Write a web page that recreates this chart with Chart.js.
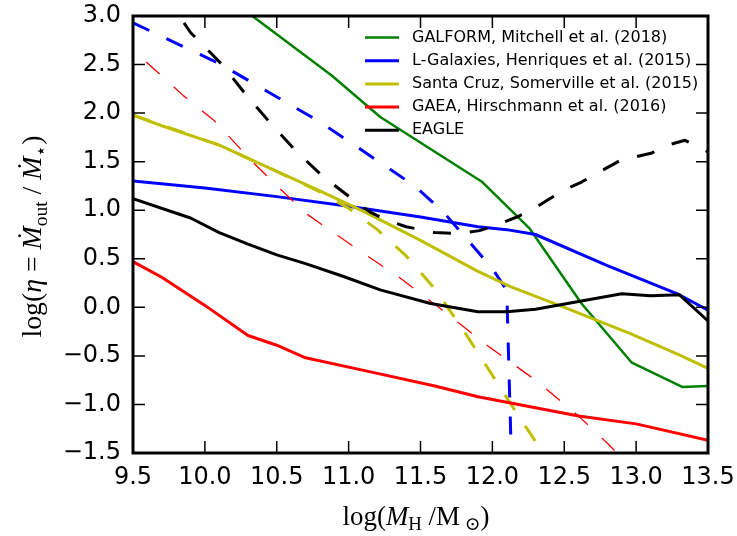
<!DOCTYPE html>
<html>
<head>
<meta charset="utf-8">
<script src="https://cdn.jsdelivr.net/npm/chart.js@4.4.1/dist/chart.umd.min.js"></script>
<style>
  html, body { margin: 0; padding: 0; background: #fff; }
  canvas { display: block; }
</style>
</head>
<body>
<canvas id="chart" width="737" height="536"></canvas>
<script>
(() => {
  'use strict'
  // Valeurs (log M_halo, log eta)
  const modelNames = ['GALFORM, Mitchell et al. (2018)', 'L-Galaxies, Henriques et al. (2015)',
    'Santa Cruz, Somerville et al. (2015)', 'GAEA, Hirschmann et al. (2016)', 'EAGLE']
  const modelColors = ['#008000', '#0000ff', '#bfbf00', '#ff0000', '#000000']

  // traits pleins
  const galformX = [10.2, 10.33, 10.88, 11.22, 11.93, 12.26, 12.62, 12.97, 13.32, 13.5]
  const galformY = [3.14, 3.0, 2.39, 1.96, 1.29, 0.81, 0.04, -0.57, -0.82, -0.81]
  const lgalX = [9.5, 10.0, 10.5, 11.0, 11.5, 11.9, 12.1, 12.3, 12.8, 13.3, 13.5]
  const lgalY = [1.30, 1.23, 1.14, 1.04, 0.93, 0.83, 0.80, 0.75, 0.43, 0.13, -0.03]
  const scX = [9.5, 9.7, 10.1, 10.5, 10.8, 11.1, 11.5, 11.9, 12.13, 12.5, 12.96, 13.3, 13.5]
  const scY = [1.98, 1.87, 1.67, 1.40, 1.20, 0.99, 0.69, 0.37, 0.21, 0.0, -0.27, -0.49, -0.63]
  const gaeaX = [9.5, 9.7, 10.0, 10.3, 10.5, 10.7, 11.2, 11.6, 11.9, 12.6, 13.0, 13.5]
  const gaeaY = [0.47, 0.31, 0.02, -0.29, -0.39, -0.52, -0.68, -0.81, -0.92, -1.12, -1.20, -1.37]
  const eagleX = [9.5, 9.9, 10.1, 10.3, 10.5, 10.7, 10.96, 11.22, 11.57, 11.9, 12.1, 12.3, 12.6, 12.9, 13.1, 13.3, 13.5]
  const eagleY = [1.12, 0.92, 0.77, 0.65, 0.54, 0.45, 0.32, 0.18, 0.04, -0.045, -0.045, -0.02, 0.06, 0.14, 0.12, 0.13, -0.14]

  // tirets
  const lgalDashX = [9.5, 10.1, 10.8, 11.46, 11.66, 12.0, 12.08, 12.10, 12.135]
  const lgalDashY = [2.93, 2.51, 1.91, 1.25, 0.98, 0.40, 0.22, 0.17, -1.7]
  const scDashX = [9.5, 10.1, 10.5, 10.8, 11.0, 11.2, 11.4, 11.6, 11.8, 12.0, 12.2, 12.4]
  const scDashY = [1.98, 1.67, 1.40, 1.19, 1.02, 0.80, 0.53, 0.19, -0.24, -0.70, -1.16, -1.60]
  const gaeaDashX = [9.4, 9.5, 9.85, 10.06, 10.33, 10.51, 10.7, 11.03, 11.36, 11.68, 11.98, 12.31, 12.6, 12.8, 12.9]
  const gaeaDashY = [2.78, 2.65, 2.18, 1.93, 1.50, 1.24, 0.97, 0.63, 0.30, -0.06, -0.41, -0.76, -1.12, -1.40, -1.55]
  const eagleDashX = [9.855, 9.9, 10.0, 10.12, 10.28, 10.46, 10.64, 10.82, 11.03, 11.15, 11.26, 11.4, 11.6, 11.77,
    11.91, 12.03, 12.17, 12.27, 12.39, 12.5, 12.62, 12.74, 12.85, 12.91, 13.0, 13.11, 13.22, 13.34, 13.5]
  const eagleDashY = [2.93, 2.83, 2.68, 2.50, 2.20, 1.89, 1.60, 1.35, 1.11, 0.98, 0.90, 0.83, 0.77, 0.76,
    0.79, 0.85, 0.93, 1.00, 1.11, 1.21, 1.29, 1.39, 1.48, 1.53, 1.55, 1.59, 1.67, 1.72, 1.60]

  const xMin = 9.5, xMax = 13.5, yMin = -1.5, yMax = 3.0

  const dash = [18, 19]
  const zip = (xs, ys) => xs.map((x, i) => ({x: x, y: ys[i]}))
  const line = (xs, ys, color, width, dashed) => ({
    data: zip(xs, ys),
    borderColor: color,
    borderWidth: width,
    borderDash: dashed ? dash : [],
    borderCapStyle: 'butt',
    borderJoinStyle: 'round',
    pointRadius: 0,
    tension: 0,
    fill: false
  })

  const datasets = [
    line(galformX, galformY, modelColors[0], 2.5, false),
    line(lgalX, lgalY, modelColors[1], 3, false),
    line(lgalDashX, lgalDashY, modelColors[1], 3, true),
    line(scX, scY, modelColors[2], 3, false),
    line(scDashX, scDashY, modelColors[2], 3, true),
    line(gaeaX, gaeaY, modelColors[3], 3, false),
    line(gaeaDashX, gaeaDashY, modelColors[3], 1.3, true),
    line(eagleX, eagleY, modelColors[4], 3, false),
    line(eagleDashX, eagleDashY, modelColors[4], 3, true)
  ]
  datasets.forEach((d, i) => { d.order = datasets.length - i }) // le dernier par-dessus

  const fmt = v => (v < 0 ? '\u2212' : '') + Math.abs(v).toFixed(1)

  // titre en "mathtext" : morceaux normal / italique / indice, ajuste a une largeur donnee
  const drawMath = (ctx, runs, targetW, cx, baseY) => {
    const fam = '"Liberation Serif", "DejaVu Serif", serif'
    const fontOf = (r, size) => (r.it ? 'italic ' : '') + (r.sub ? size * 0.7 : size) + 'px ' + fam
    const widthAt = size => runs.reduce((w, r) => { ctx.font = fontOf(r, size); return w + ctx.measureText(r.t).width }, 0)
    const size = 24 * targetW / widthAt(24)
    let x = cx - widthAt(size) / 2
    ctx.textAlign = 'left'
    ctx.textBaseline = 'alphabetic'
    runs.forEach(r => {
      ctx.font = fontOf(r, size)
      ctx.fillText(r.t, x, baseY + (r.sub ? size * 0.2 : 0))
      x += ctx.measureText(r.t).width
    })
  }

  const decor = {
    id: 'decor',
    afterDraw(chart) {
      const {ctx, chartArea: a, scales: {x, y}} = chart
      ctx.save()
      // petits traits vers l'interieur, sur les 4 cotes
      ctx.strokeStyle = '#000'
      ctx.lineWidth = 1.5
      ctx.beginPath()
      x.ticks.forEach(t => {
        const p = x.getPixelForValue(t.value)
        ctx.moveTo(p, a.bottom); ctx.lineTo(p, a.bottom - 12)
        ctx.moveTo(p, a.top); ctx.lineTo(p, a.top + 12)
      })
      y.ticks.forEach(t => {
        const p = y.getPixelForValue(t.value)
        ctx.moveTo(a.left, p); ctx.lineTo(a.left + 12, p)
        ctx.moveTo(a.right, p); ctx.lineTo(a.right - 12, p)
      })
      ctx.stroke()
      ctx.lineWidth = 3
      ctx.strokeRect(a.left, a.top, a.right - a.left, a.bottom - a.top)

      // legende
      ctx.font = '16px "DejaVu Sans"'
      ctx.textBaseline = 'middle'
      ctx.textAlign = 'left'
      modelNames.forEach((name, i) => {
        const yy = 37.5 + i * 23.2
        ctx.strokeStyle = modelColors[i]
        ctx.lineWidth = i === 0 ? 2.5 : 3
        ctx.beginPath()
        ctx.moveTo(365, yy); ctx.lineTo(399, yy)
        ctx.stroke()
        ctx.fillStyle = '#000'
        ctx.fillText(name, 412, yy)
      })

      // titres des axes
      ctx.fillStyle = '#000'
      drawMath(ctx, [
        {t: 'log('}, {t: 'M', it: true}, {t: 'H', sub: true}, {t: ' /M'}, {t: ' \u2299', sub: true}, {t: ')'}
      ], 147, 416, 525)
      ctx.translate(41, 236.5)
      ctx.rotate(-Math.PI / 2)
      drawMath(ctx, [
        {t: 'log('}, {t: '\u03b7', it: true}, {t: ' = '}, {t: '\u1e40', it: true}, {t: 'out', sub: true},
        {t: ' / '}, {t: '\u1e40', it: true}, {t: '\u22c6', sub: true}, {t: ')'}
      ], 203, 0, 0)
      ctx.restore()
    }
  }

  Chart.defaults.font.family = '"DejaVu Sans", sans-serif'
  Chart.defaults.color = '#000'

  new Chart(document.getElementById('chart'), {
    type: 'line',
    data: { datasets: datasets },
    options: {
      responsive: false,
      animation: false,
      devicePixelRatio: 1,
      layout: { autoPadding: false, padding: { top: 16, right: 29, left: 0, bottom: 0 } },
      plugins: { legend: { display: false }, tooltip: { enabled: false } },
      scales: {
        x: {
          type: 'linear', min: xMin, max: xMax,
          grid: { display: false, drawTicks: false },
          border: { display: false },
          ticks: { stepSize: 0.5, padding: 10, font: { size: 24 }, maxRotation: 0, callback: fmt },
          // pas de marge auto pour les etiquettes qui debordent
          afterFit: s => { s.height = 83; s.paddingLeft = 0; s.paddingRight = 0 }
        },
        y: {
          type: 'linear', min: yMin, max: yMax,
          grid: { display: false, drawTicks: false },
          border: { display: false },
          ticks: { stepSize: 0.5, padding: 12, font: { size: 24 }, callback: fmt },
          afterFit: s => { s.width = 133; s.paddingTop = 0; s.paddingBottom = 0 }
        }
      }
    },
    plugins: [decor]
  })
})();
</script>
</body>
</html>
